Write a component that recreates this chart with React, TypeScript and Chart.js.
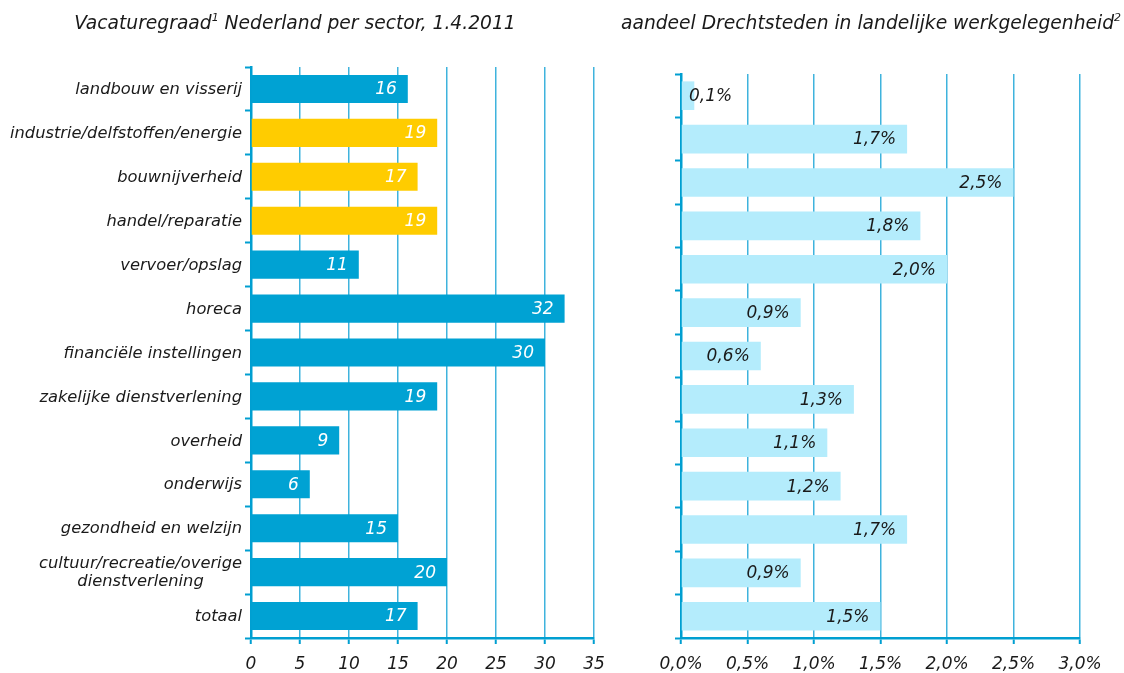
import React, { useEffect, useRef } from 'react';
import { Chart, registerables } from 'chart.js';

Chart.register(...registerables);

const FONT = '"DejaVu Sans", Verdana, sans-serif';

const sectors: string[][] = [
  ['landbouw en visserij'],
  ['industrie/delfstoffen/energie'],
  ['bouwnijverheid'],
  ['handel/reparatie'],
  ['vervoer/opslag'],
  ['horeca'],
  ['financiële instellingen'],
  ['zakelijke dienstverlening'],
  ['overheid'],
  ['onderwijs'],
  ['gezondheid en welzijn'],
  ['cultuur/recreatie/overige', 'dienstverlening'],
  ['totaal'],
];

const vacancyRate = [16, 19, 17, 19, 11, 32, 30, 19, 9, 6, 15, 20, 17];
const highlighted = [false, true, true, true, false, false, false, false, false, false, false, false, false];
const regionalShare = [0.1, 1.7, 2.5, 1.8, 2.0, 0.9, 0.6, 1.3, 1.1, 1.2, 1.7, 0.9, 1.5];

const leftMax = 35;
const leftStep = 5;
const rightMax = 3.0;
const rightStep = 0.5;

const leftTitle = ['Vacaturegraad', '1', ' Nederland per sector, 1.4.2011'];
const rightTitle = ['aandeel Drechtsteden in landelijke werkgelegenheid', '2', ''];

const DARK_BLUE = '#00a2d3';
const YELLOW = '#ffcc00';
const LIGHT_BLUE = '#b4ecfc';
const AXIS = '#009fd1';
const GRID = '#3fb3dd';
const TEXT = '#1a1a1a';

const LABEL_SIZE = 16.3;
const NUM_SIZE = 17;
const TITLE_SIZE = 18.7;

const fmtPct = (v: number) => v.toFixed(1).replace('.', ',') + '%';

function titlePlugin(parts: string[], cx: number, baseline: number) {
  return {
    id: 'customTitle',
    afterDraw(chart: any) {
      const ctx = chart.ctx;
      ctx.save();
      ctx.fillStyle = TEXT;
      ctx.textBaseline = 'alphabetic';
      ctx.textAlign = 'left';
      const mainFont = 'italic ' + TITLE_SIZE + 'px ' + FONT;
      const supFont = 'italic 11px ' + FONT;
      ctx.font = mainFont;
      const w0 = ctx.measureText(parts[0]).width;
      const w2 = ctx.measureText(parts[2]).width;
      ctx.font = supFont;
      const w1 = ctx.measureText(parts[1]).width;
      const total = w0 + w1 + w2;
      let x = cx - total / 2;
      ctx.font = mainFont;
      ctx.fillText(parts[0], x, baseline);
      x += w0;
      ctx.font = supFont;
      ctx.fillText(parts[1], x, baseline - 8);
      x += w1;
      ctx.font = mainFont;
      ctx.fillText(parts[2], x, baseline);
      ctx.restore();
    },
  };
}

function valueLabelPlugin(color: string, fmt: (v: number) => string) {
  return {
    id: 'valueLabels',
    afterDatasetsDraw(chart: any) {
      const ctx = chart.ctx;
      const meta = chart.getDatasetMeta(0);
      const xs = chart.scales.x;
      const base = xs.getPixelForValue(0);
      ctx.save();
      ctx.font = 'italic ' + NUM_SIZE + 'px ' + FONT;
      ctx.fillStyle = color;
      ctx.textBaseline = 'middle';
      meta.data.forEach((bar: any, i: number) => {
        const text = fmt(chart.data.datasets[0].data[i]);
        const w = ctx.measureText(text).width;
        if (bar.x - base > w + 20) {
          ctx.textAlign = 'right';
          ctx.fillText(text, bar.x - 11, bar.y + 1);
        } else {
          ctx.textAlign = 'left';
          ctx.fillText(text, base + 8, bar.y + 1);
        }
      });
      ctx.restore();
    },
  };
}

const categoryLabelPlugin = {
  id: 'categoryLabels',
  afterDraw(chart: any) {
    const ctx = chart.ctx;
    const ys = chart.scales.y;
    const right = chart.chartArea.left - 9;
    ctx.save();
    ctx.font = 'italic ' + LABEL_SIZE + 'px ' + FONT;
    ctx.fillStyle = TEXT;
    ctx.textBaseline = 'middle';
    ctx.textAlign = 'center';
    sectors.forEach((lines, i) => {
      const y = ys.getPixelForValue(i);
      const maxW = Math.max(...lines.map((l) => ctx.measureText(l).width));
      const cx = right - maxW / 2;
      lines.forEach((line, j) => {
        const ly = y + 1 + (j - (lines.length - 1) / 2) * 18;
        ctx.fillText(line, cx, ly);
      });
    });
    ctx.restore();
  },
};

function makeOptions(opts: {
  max: number;
  step: number;
  padTop: number;
  padRight: number;
  yWidth: number;
  barPct: number;
  tickFmt: (v: number) => string;
}): any {
  return {
    indexAxis: 'y',
    responsive: false,
    animation: false,
    layout: { padding: { top: opts.padTop, right: opts.padRight, left: 0, bottom: 0 } },
    plugins: { legend: { display: false }, tooltip: { enabled: false }, title: { display: false } },
    datasets: { bar: { barPercentage: opts.barPct, categoryPercentage: 1 } },
    scales: {
      x: {
        min: 0,
        max: opts.max,
        ticks: {
          stepSize: opts.step,
          color: TEXT,
          padding: 10,
          font: { family: FONT, size: NUM_SIZE, style: 'italic' },
          callback: (v: number) => opts.tickFmt(v),
          maxRotation: 0,
        },
        grid: {
          color: GRID,
          lineWidth: 1.5,
          drawTicks: true,
          tickLength: 6,
          tickColor: AXIS,
          tickWidth: 2,
        },
        border: { color: AXIS, width: 2.5 },
        afterFit: (s: any) => {
          s.height = 35;
        },
      },
      y: {
        ticks: { color: 'rgba(0,0,0,0)', font: { family: FONT, size: 15 } },
        grid: {
          drawOnChartArea: false,
          drawTicks: true,
          tickLength: 6,
          tickColor: AXIS,
          tickWidth: 2,
          offset: true,
        },
        border: { color: AXIS, width: 2.5 },
        afterFit: (s: any) => {
          s.width = opts.yWidth;
        },
      },
    },
  };
}

export default function App() {
  const leftRef = useRef<HTMLCanvasElement>(null);
  const rightRef = useRef<HTMLCanvasElement>(null);

  useEffect(() => {
    const labels = sectors.map((s) => s.join(' '));
    const left = new Chart(leftRef.current!, {
      type: 'bar',
      data: {
        labels,
        datasets: [
          {
            data: vacancyRate,
            backgroundColor: highlighted.map((h) => (h ? YELLOW : DARK_BLUE)),
            borderWidth: 0,
          },
        ],
      },
      options: makeOptions({
        max: leftMax,
        step: leftStep,
        padTop: 67,
        padRight: 26,
        yWidth: 251,
        barPct: 0.64,
        tickFmt: (v) => String(v),
      }),
      plugins: [categoryLabelPlugin, valueLabelPlugin('#ffffff', (v) => String(v)), titlePlugin(leftTitle, 295, 29)],
    });

    const right = new Chart(rightRef.current!, {
      type: 'bar',
      data: {
        labels,
        datasets: [
          {
            data: regionalShare,
            backgroundColor: LIGHT_BLUE,
            borderWidth: 0,
          },
        ],
      },
      options: makeOptions({
        max: rightMax,
        step: rightStep,
        padTop: 74,
        padRight: 44,
        yWidth: 61,
        barPct: 0.66,
        tickFmt: (v) => fmtPct(v),
      }),
      plugins: [valueLabelPlugin(TEXT, fmtPct), titlePlugin(rightTitle, 251, 29)],
    });

    return () => {
      left.destroy();
      right.destroy();
    };
  }, []);

  return (
    <div style={{ position: 'fixed', left: 0, top: 0, width: 1124, height: 673, background: '#ffffff' }}>
      <canvas ref={leftRef} width={620} height={673} style={{ position: 'absolute', left: 0, top: 0 }} />
      <canvas ref={rightRef} width={504} height={673} style={{ position: 'absolute', left: 620, top: 0 }} />
    </div>
  );
}
